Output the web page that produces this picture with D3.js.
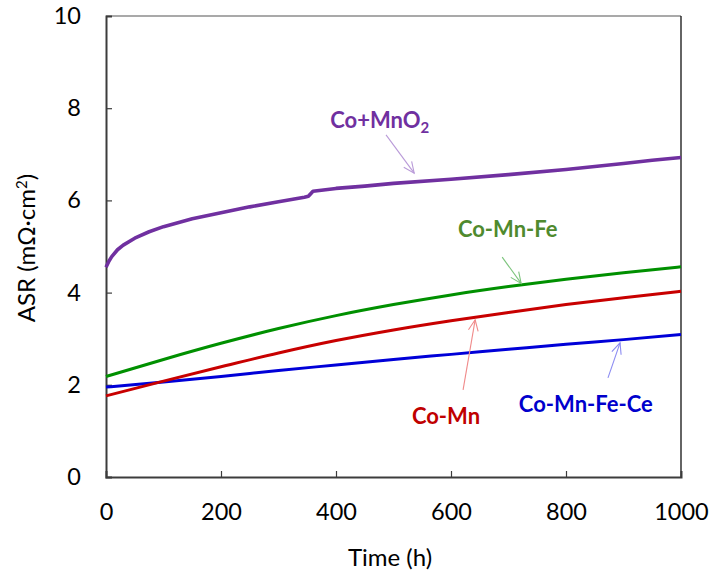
<!DOCTYPE html>
<html>
<head>
<meta charset="utf-8">
<script src="https://cdn.jsdelivr.net/npm/d3@7"></script>
<style>
  html, body { margin: 0; padding: 0; background: #fff; }
  svg { display: block; font-family: Lato, "Open Sans", sans-serif; }
</style>
</head>
<body>
<svg id="chart" width="711" height="575"></svg>
<script>
// ---- data ----
const timePurple = [0, 5, 10, 20, 30, 50, 75, 100, 150, 200, 250, 300, 345, 352, 360, 400, 450, 500, 600, 700, 800, 900, 950, 1000];
const asrCoMnO2  = [4.55, 4.68, 4.78, 4.93, 5.03, 5.18, 5.32, 5.43, 5.6, 5.73, 5.86, 5.97, 6.07, 6.09, 6.2, 6.26, 6.31, 6.37, 6.46, 6.56, 6.67, 6.8, 6.87, 6.93];

const timeCommon = [0, 100, 200, 300, 400, 500, 600, 700, 800, 900, 1000];
const asrCoMnFe   = [2.18, 2.55, 2.9, 3.22, 3.5, 3.74, 3.95, 4.13, 4.29, 4.43, 4.56];
const asrCoMn     = [1.76, 2.08, 2.39, 2.69, 2.96, 3.19, 3.39, 3.57, 3.74, 3.89, 4.03];
const asrCoMnFeCe = [1.95, 2.06, 2.18, 2.31, 2.43, 2.55, 2.66, 2.77, 2.88, 2.98, 3.09];

const xTicks = [0, 200, 400, 600, 800, 1000];
const yTicks = [0, 2, 4, 6, 8, 10];

const seriesNames = ["Co+MnO2", "Co-Mn-Fe", "Co-Mn", "Co-Mn-Fe-Ce"];
// label anchor (time, ASR) and arrow (from -> to) in data units
const labelTime  = [390, 612, 532, 718];
const labelAsr   = [7.57, 5.21, 1.15, 1.41];
const arrowFromT = [487, 689, 621, 873];
const arrowFromV = [7.42, 4.77, 1.89, 2.15];
const arrowToT   = [536, 722, 642, 894];
const arrowToV   = [6.59, 4.2, 3.41, 2.91];

// ---- layout ----
const svg = d3.select("#chart");
const mLeft = 106, mRight = 681, mTop = 16, mBottom = 477;
const x = d3.scaleLinear().domain([0, 1000]).range([mLeft, mRight]);
const y = d3.scaleLinear().domain([0, 10]).range([mBottom, mTop]);

const lineColors  = ["#7030A0", "#009000", "#C80000", "#0000D8"];
const labelColors = ["#7030A0", "#4F8A2E", "#C00000", "#0000CC"];
const arrowColors = ["#B99AD8", "#7CC47C", "#F08A8A", "#8C8CF2"];
const lineWidths  = [3.6, 3, 3, 3];

// frame (top and right)
svg.append("line").attr("x1", mLeft).attr("x2", mRight).attr("y1", mTop).attr("y2", mTop)
  .attr("stroke", "#8c8c8c").attr("stroke-width", 1.5);
svg.append("line").attr("x1", mRight).attr("x2", mRight).attr("y1", mTop).attr("y2", mBottom)
  .attr("stroke", "#111").attr("stroke-width", 1.3);

// axes
const yAxis = d3.axisLeft(y).tickValues(yTicks).tickSize(-6).tickPadding(25).tickFormat(d3.format("d"));
const xAxis = d3.axisBottom(x).tickValues(xTicks).tickSize(-6).tickPadding(26).tickFormat(d3.format("d"));

const gy = svg.append("g").attr("transform", `translate(${mLeft},0)`).call(yAxis);
const gx = svg.append("g").attr("transform", `translate(0,${mBottom})`).call(xAxis);
[gx, gy].forEach(g => {
  g.select(".domain").attr("stroke", "#3c3c3c").attr("stroke-width", 2);
  g.selectAll(".tick line").attr("stroke", "#3c3c3c").attr("stroke-width", 1.2);
  g.selectAll(".tick text").attr("fill", "#000").style("font-size", "23.5px")
    .style("font-family", "Lato, 'Open Sans', sans-serif");
});
gx.selectAll(".tick").filter(d => d === 0 || d === 1000).select("line").remove();
gy.selectAll(".tick").filter(d => d === 0 || d === 10).select("line").remove();

// axis titles
svg.append("text").attr("x", 390).attr("y", 566).attr("text-anchor", "middle")
  .attr("fill", "#000").style("font-size", "24px").text("Time (h)");
const yt = svg.append("text").attr("transform", "translate(35,248) rotate(-90)")
  .attr("text-anchor", "middle").attr("fill", "#000").style("font-size", "24px");
yt.append("tspan").text("ASR (mΩ·cm");
yt.append("tspan").attr("dy", -8).style("font-size", "15px").text("2");
yt.append("tspan").attr("dy", 8).text(")");

// lines
const smooth = d3.line().x(d => x(d[0])).y(d => y(d[1])).curve(d3.curveMonotoneX);
const straight = d3.line().x(d => x(d[0])).y(d => y(d[1]));
const seriesData = [
  d3.zip(timePurple, asrCoMnO2),
  d3.zip(timeCommon, asrCoMnFe),
  d3.zip(timeCommon, asrCoMn),
  d3.zip(timeCommon, asrCoMnFeCe)
];
[3, 2, 1, 0].forEach(i => {
  svg.append("path").datum(seriesData[i]).attr("d", i === 0 ? straight : smooth)
    .attr("fill", "none").attr("stroke", lineColors[i]).attr("stroke-width", lineWidths[i])
    .attr("stroke-linejoin", "round");
});

// arrows
seriesNames.forEach((n, i) => {
  const x1 = x(arrowFromT[i]), y1 = y(arrowFromV[i]);
  const x2 = x(arrowToT[i]), y2 = y(arrowToV[i]);
  svg.append("line").attr("x1", x1).attr("y1", y1).attr("x2", x2).attr("y2", y2)
    .attr("stroke", arrowColors[i]).attr("stroke-width", 1.1);
  const ang = Math.atan2(y2 - y1, x2 - x1);
  const L = 12, a = 0.42;
  const p1 = [x2 - L * Math.cos(ang - a), y2 - L * Math.sin(ang - a)];
  const p2 = [x2 - L * Math.cos(ang + a), y2 - L * Math.sin(ang + a)];
  svg.append("path").attr("d", `M${p1[0]},${p1[1]}L${x2},${y2}L${p2[0]},${p2[1]}`)
    .attr("fill", "none").attr("stroke", arrowColors[i]).attr("stroke-width", 1.1);
});

// labels
seriesNames.forEach((n, i) => {
  const t = svg.append("text").attr("x", x(labelTime[i])).attr("y", y(labelAsr[i]))
    .attr("fill", labelColors[i]).style("font-size", "22px").style("font-weight", "bold");
  if (i === 0) {
    t.append("tspan").text("Co+MnO");
    t.append("tspan").attr("dy", 5).style("font-size", "15px").text("2");
  } else {
    t.text(n);
  }
});
</script>
</body>
</html>
